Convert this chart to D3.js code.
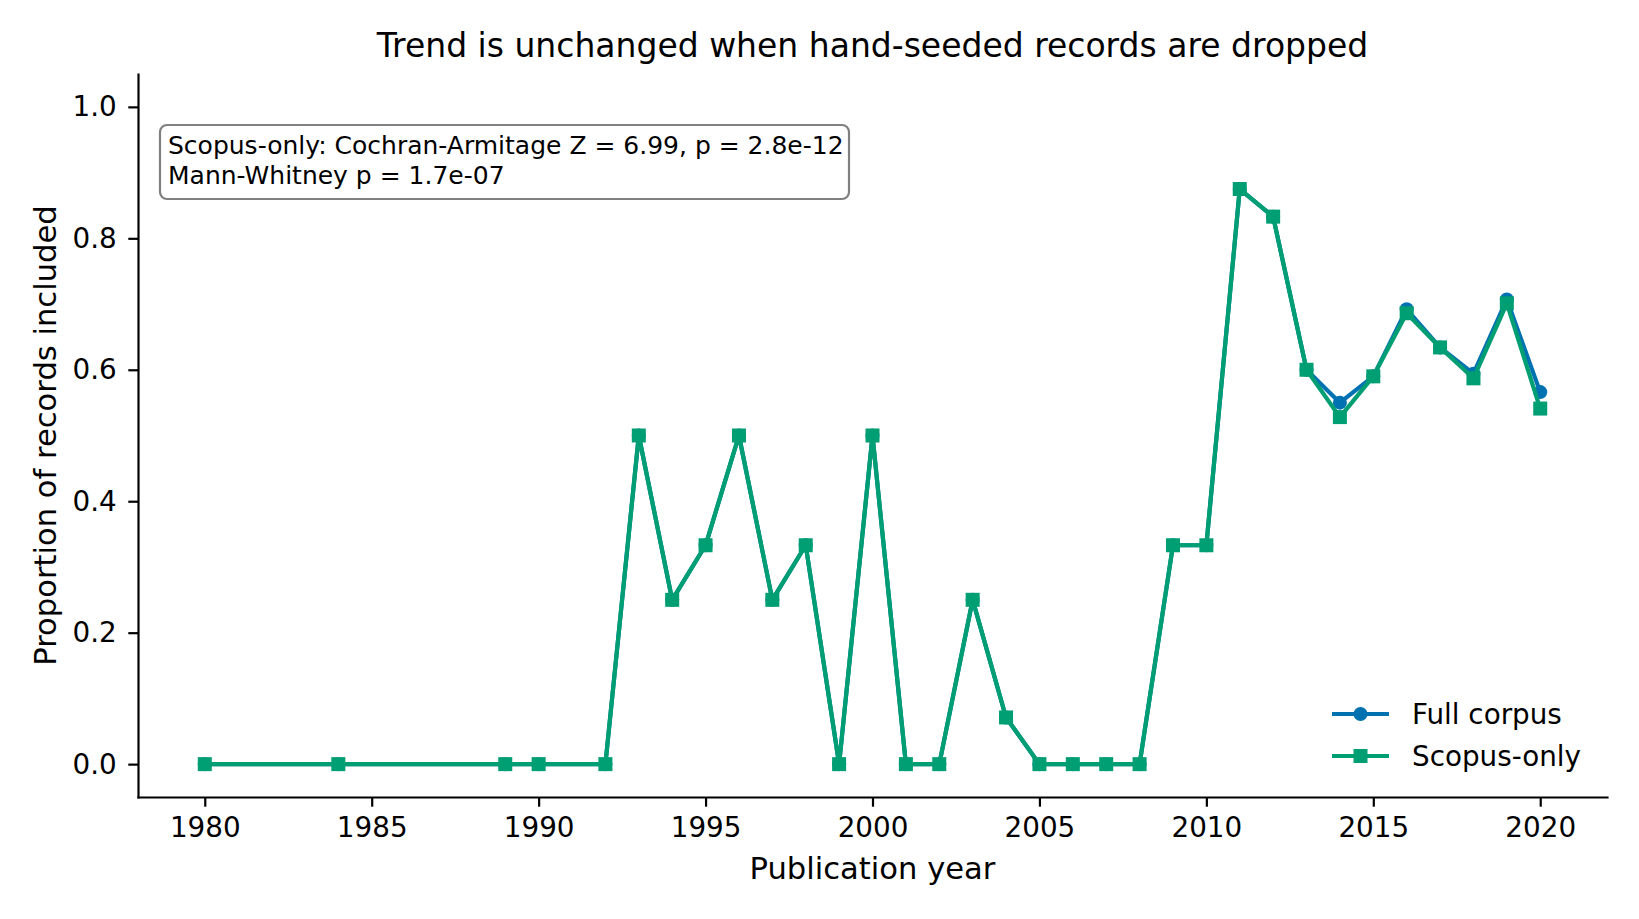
<!DOCTYPE html>
<html>
<head>
<meta charset="utf-8">
<script src="https://cdn.jsdelivr.net/npm/d3@7"></script>
<style>
  body { margin: 0; background: #fff; }
  svg { font-family: "DejaVu Sans", sans-serif; }
  .axis text { font-family: "DejaVu Sans", sans-serif; font-size: 27.8px; fill: #000; }
  .axis line, .axis path { stroke: #000; stroke-width: 2.2px; }
</style>
</head>
<body>
<div id="chart"></div>
<script>
// Proportion of records included by publication year
const years = [1980, 1984, 1989, 1990, 1992, 1993, 1994, 1995, 1996, 1997, 1998, 1999, 2000,
  2001, 2002, 2003, 2004, 2005, 2006, 2007, 2008, 2009, 2010, 2011, 2012, 2013, 2014, 2015,
  2016, 2017, 2018, 2019, 2020];

const fullCorpus = [0, 0, 0, 0, 0, 0.5, 0.25, 0.333, 0.5, 0.25, 0.333, 0, 0.5,
  0, 0, 0.25, 0.071, 0, 0, 0, 0, 0.333, 0.333, 0.875, 0.833, 0.6, 0.55, 0.59,
  0.692, 0.634, 0.594, 0.707, 0.566];

const scopusOnly = [0, 0, 0, 0, 0, 0.5, 0.25, 0.333, 0.5, 0.25, 0.333, 0, 0.5,
  0, 0, 0.25, 0.071, 0, 0, 0, 0, 0.333, 0.333, 0.875, 0.833, 0.6, 0.528, 0.59,
  0.686, 0.634, 0.587, 0.701, 0.541];

const xTicks = [1980, 1985, 1990, 1995, 2000, 2005, 2010, 2015, 2020];
const yTicks = [0, 0.2, 0.4, 0.6, 0.8, 1.0];

const seriesList = [
  { name: 'Full corpus', values: fullCorpus, color: '#0072B2', marker: 'circle' },
  { name: 'Scopus-only', values: scopusOnly, color: '#009E73', marker: 'square' }
];

const statsLines = [
  'Scopus-only: Cochran-Armitage Z = 6.99, p = 2.8e-12',
  'Mann-Whitney p = 1.7e-07'
];

const W = 1639, H = 919;
const plot = { left: 138, right: 1607, top: 74, bottom: 797 };

const svg = d3.select('#chart')
  .append('svg')
  .attr('width', W)
  .attr('height', H);

const x = d3.scaleLinear().domain([1978, 2022]).range([plot.left, plot.right]);
const y = d3.scaleLinear().domain([-0.05, 1.05]).range([plot.bottom, plot.top]);

// Axes
svg.append('g')
  .attr('class', 'axis')
  .attr('transform', `translate(0, ${plot.bottom})`)
  .call(d3.axisBottom(x).tickValues(xTicks).tickFormat(d3.format('d'))
    .tickSize(9.7).tickSizeOuter(0).tickPadding(11));

svg.append('g')
  .attr('class', 'axis')
  .attr('transform', `translate(${plot.left}, 0)`)
  .call(d3.axisLeft(y).tickValues(yTicks).tickFormat(d3.format('.1f'))
    .tickSize(9.7).tickSizeOuter(0).tickPadding(11.5));

svg.selectAll('.axis path.domain').attr('stroke-linecap', 'square');

// Title and axis labels
svg.append('text')
  .attr('x', (plot.left + plot.right) / 2)
  .attr('y', 57)
  .attr('text-anchor', 'middle')
  .style('font-size', '33px')
  .text('Trend is unchanged when hand-seeded records are dropped');

svg.append('text')
  .attr('x', (plot.left + plot.right) / 2)
  .attr('y', 879)
  .attr('text-anchor', 'middle')
  .style('font-size', '30.6px')
  .text('Publication year');

svg.append('text')
  .attr('transform', `translate(56, ${(plot.top + plot.bottom) / 2}) rotate(-90)`)
  .attr('text-anchor', 'middle')
  .style('font-size', '30.6px')
  .text('Proportion of records included');

// Lines and markers
const line = d3.line()
  .x((d, i) => x(years[i]))
  .y(d => y(d));

const ms = 14;

seriesList.forEach(s => {
  svg.append('path')
    .datum(s.values)
    .attr('fill', 'none')
    .attr('stroke', s.color)
    .attr('stroke-width', 4.2)
    .attr('stroke-linejoin', 'round')
    .attr('d', line);

  if (s.marker === 'circle') {
    svg.selectAll(null)
      .data(s.values)
      .enter()
      .append('circle')
      .attr('cx', (d, i) => x(years[i]))
      .attr('cy', d => y(d))
      .attr('r', ms / 2)
      .attr('fill', s.color);
  } else {
    svg.selectAll(null)
      .data(s.values)
      .enter()
      .append('rect')
      .attr('x', (d, i) => x(years[i]) - ms / 2)
      .attr('y', d => y(d) - ms / 2)
      .attr('width', ms)
      .attr('height', ms)
      .attr('fill', s.color);
  }
});

// Stats box
svg.append('rect')
  .attr('x', 160)
  .attr('y', 125)
  .attr('width', 689)
  .attr('height', 74)
  .attr('rx', 7)
  .attr('fill', 'rgba(255,255,255,0.85)')
  .attr('stroke', '#808080')
  .attr('stroke-width', 2.2);

svg.append('g')
  .selectAll('text')
  .data(statsLines)
  .enter()
  .append('text')
  .attr('x', 168)
  .attr('y', (d, i) => 154 + i * 30)
  .style('font-size', '25px')
  .text(d => d);

// Legend
const legend = svg.append('g')
  .attr('transform', 'translate(1332, 714)');

const legendRows = legend.selectAll('g')
  .data(seriesList)
  .enter()
  .append('g')
  .attr('transform', (d, i) => `translate(0, ${i * 42})`);

legendRows.append('line')
  .attr('x1', 0).attr('x2', 57)
  .attr('stroke', d => d.color)
  .attr('stroke-width', 4.2);

legendRows.each(function(d) {
  const g = d3.select(this);
  if (d.marker === 'circle') {
    g.append('circle').attr('cx', 28.5).attr('r', ms / 2).attr('fill', d.color);
  } else {
    g.append('rect').attr('x', 28.5 - ms / 2).attr('y', -ms / 2)
      .attr('width', ms).attr('height', ms).attr('fill', d.color);
  }
});

legendRows.append('text')
  .attr('x', 80)
  .attr('y', 10)
  .style('font-size', '27.8px')
  .text(d => d.name);
</script>
</body>
</html>
